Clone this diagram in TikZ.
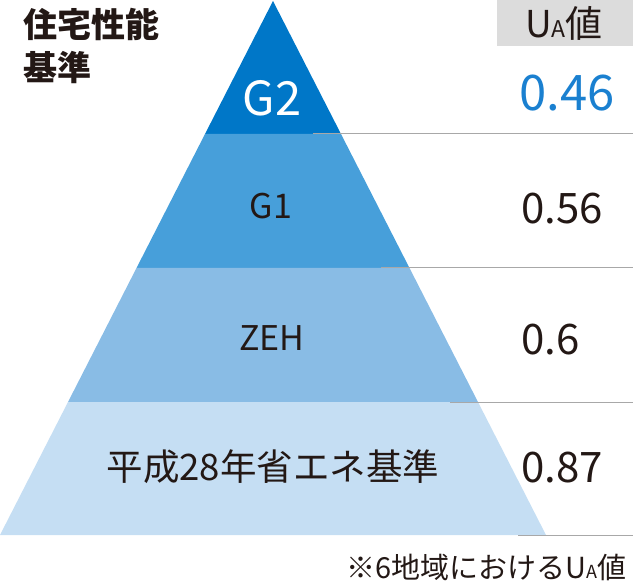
\documentclass[tikz,border=0pt]{standalone}
\usepackage{fontspec}
\setmainfont{Noto Sans CJK JP}
\definecolor{cG2}{HTML}{0077C8}
\definecolor{cG1}{HTML}{479FDA}
\definecolor{cZEH}{HTML}{89BCE5}
\definecolor{cBase}{HTML}{C5DEF3}
\definecolor{hdr}{HTML}{DCDCDC}
\definecolor{ink}{HTML}{231815}
\definecolor{blueval}{HTML}{1A80D0}
\definecolor{rule}{HTML}{A8A8A8}
\tikzset{
  lbl/.style={inner sep=0pt, text=ink, anchor=center},
  val/.style={inner sep=0pt, text=ink, anchor=west, font=\fontsize{42}{44}\selectfont},
  sep/.style={draw=rule, line width=1pt},
}
\begin{document}
\begin{tikzpicture}[x=1pt,y=-1pt]
\useasboundingbox (0,0) rectangle (633,583);
% bands
\fill[cG2] (273,1) -- (205,134) -- (341,134) -- cycle;
\fill[cG1] (205,134) -- (136.5,268) -- (409.5,268) -- (341,134) -- cycle;
\fill[cZEH] (136.5,268) -- (68,402) -- (478,402) -- (409.5,268) -- cycle;
\fill[cBase] (68,402) -- (0,535) -- (546,535) -- (478,402) -- cycle;
% rules
\coordinate (r1a) at (313,134); \coordinate (r1b) at (633,134);
\coordinate (r2a) at (381,268); \coordinate (r2b) at (633,268);
\coordinate (r3a) at (450,402); \coordinate (r3b) at (633,402);
\coordinate (r4a) at (518,535); \coordinate (r4b) at (633,535);
\draw[sep] (r1a) -- (r1b);
\draw[sep] (r2a) -- (r2b);
\draw[sep] (r3a) -- (r3b);
\draw[sep] (r4a) -- (r4b);
% header
\fill[hdr] (497,0) rectangle (633,46);
\node[lbl, font=\fontsize{37}{39}\selectfont] (hd) at (564,23) {U{\fontsize{23}{24}\selectfont A}値};
% title
\node[lbl, anchor=west, font=\fontsize{34}{43}\selectfont\bfseries, align=left] (title) at (23,46) {住宅性能\\基準};
% labels
\node[lbl, text=white, font=\fontsize{47}{49}\selectfont] (g2) at (272,98) {G2};
\node[lbl, font=\fontsize{34}{36}\selectfont] (g1) at (271,206) {G1};
\node[lbl, font=\fontsize{34}{36}\selectfont] (zeh) at (272,338) {ZEH};
\node[lbl, font=\fontsize{36.5}{38}\selectfont] (base) at (273,467) {平成28年省エネ基準};
% values
\node[val, text=blueval, font=\fontsize{49}{51}\selectfont] (v1) at (519,93) {0.46};
\node[val] (v2) at (521,209) {0.56};
\node[val] (v3) at (521,340) {0.6};
\node[val] (v4) at (521,468) {0.87};
% footnote
\node[lbl, anchor=east, font=\fontsize{29}{31}\selectfont] (note) at (627,567) {※6地域におけるU{\fontsize{18}{19}\selectfont A}値};
\end{tikzpicture}
\end{document}
